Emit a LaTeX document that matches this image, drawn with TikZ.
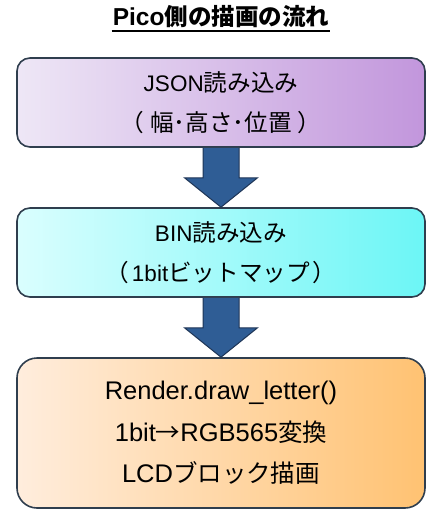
\documentclass[tikz,border=0pt]{standalone}
\usepackage{fontspec}
\setmainfont{Liberation Sans}
\newfontfamily\jp[Scale=1.05]{Noto Sans CJK JP}
\newfontfamily\jpl[Scale=0.96]{Noto Sans CJK JP}
\usetikzlibrary{calc}

\begin{document}
\begin{tikzpicture}[x=1pt,y=-1pt,
    box/.style={draw=edge,line width=1.6pt,rounded corners=13pt,minimum width=408pt,
        align=center,inner sep=0pt,font=\fontsize{22.5}{40}\selectfont},
    blockarrow/.style={fill=arrowblue,draw=arrowedge,line width=1pt,line join=miter}]
    \definecolor{edge}{HTML}{2F3E4E}
    \definecolor{arrowblue}{HTML}{2F5D95}
    \definecolor{arrowedge}{HTML}{1E3556}
    \definecolor{lilaca}{HTML}{EEE7F6}
    \definecolor{lilacb}{HTML}{C296DC}
    \definecolor{cyana}{HTML}{DAFEFE}
    \definecolor{cyanb}{HTML}{6CF6F6}
    \definecolor{peacha}{HTML}{FFEDDD}
    \definecolor{peachb}{HTML}{FFC272}
    \useasboundingbox (0,0) rectangle (434,525);

% title
    \node[anchor=base,inner sep=0pt,font=\fontsize{24.5}{26}\selectfont\bfseries]
        (title) at (221,25) {Pico{\jpl 側の描画の流れ}};
    \draw[line width=2.5pt] ($(title.base west)+(-1,6)$) -- ($(title.base east)+(1,6)$);

    % boxes
    \node[box,minimum height=89pt,left color=lilaca,right color=lilacb]
        (json) at (221,102.5) {JSON{\jp 読み込み}\\{\jp （\hspace{6pt}幅･高さ･位置\hspace{6pt}）}};
    \node[box,minimum height=89pt,left color=cyana,right color=cyanb]
        (bin) at (221,252.5) {BIN{\jp 読み込み}\\{\jp （}\hspace{3pt}1bit{\jp ビットマップ\hspace{3pt}）}};
    \node[box,minimum height=150pt,rounded corners=20pt,left color=peacha,right color=peachb,
        font=\fontsize{25.5}{41.5}\selectfont]
        (render) at (221,433) {Render.draw\_letter()\\1bit{\jpl →}RGB565{\jpl 変換}\\LCD{\jpl ブロック描画}};

    % block arrows
    \foreach \a/\b in {json/bin,bin/render}
        \draw[blockarrow] ($(\a.south)+(-18,0)$) -- ($(\a.south)+(-18,30)$)
            -- ($(\a.south)+(-36.5,30)$) -- (\b.north) -- ($(\a.south)+(36.5,30)$)
            -- ($(\a.south)+(18,30)$) -- ($(\a.south)+(18,0)$);
\end{tikzpicture}
\end{document}
